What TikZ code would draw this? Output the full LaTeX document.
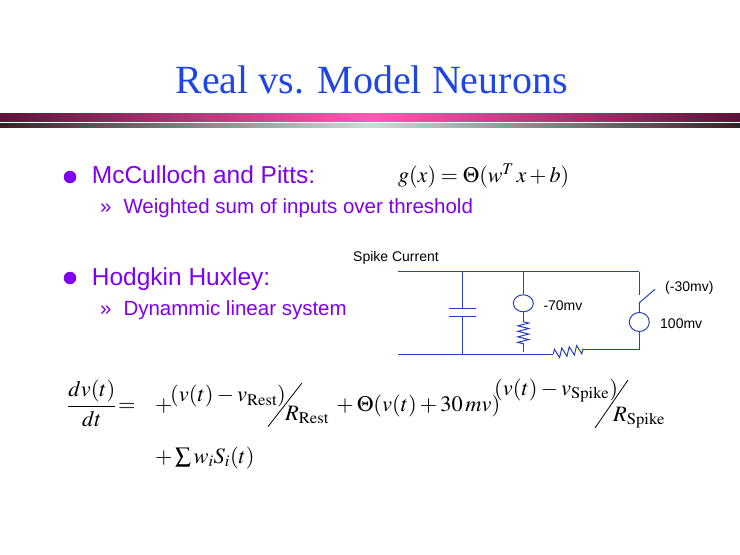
\documentclass[tikz,border=0pt]{standalone}
\usepackage{graphicx}
\usepackage{mathptmx}
\usepackage[no-math]{fontspec}
\setmainfont{Liberation Sans}
\newfontfamily\titlefont{Liberation Serif}
\usepackage{xcolor}
\usetikzlibrary{
  shapes.geometric,
  decorations.pathmorphing,
  positioning}

\definecolor{titleblue}{RGB}{30,70,230}
\definecolor{bulletpurple}{RGB}{128,0,240}
\definecolor{wireblue}{RGB}{40,64,190}
\definecolor{barmaroon}{RGB}{90,20,55}
\definecolor{barpink}{RGB}{255,90,180}
\definecolor{bardark}{RGB}{40,40,40}
\definecolor{barlight}{RGB}{215,215,215}

\newcommand{\eqs}[1]{\scalebox{1.02}[1]{$\displaystyle #1$}}

\tikzset{
  bullettext/.style={anchor=base west,inner sep=0pt,text=bulletpurple,font=\fontsize{24.5}{28}\selectfont},
  subtext/.style={anchor=base west,inner sep=0pt,text=bulletpurple,font=\fontsize{20.5}{24}\selectfont},
  dot/.style={circle,fill=bulletpurple,inner sep=0pt,minimum size=12.5pt},
  wire/.style={draw=wireblue,line width=1pt},
  source/.style={ellipse,draw=wireblue,line width=1pt,inner sep=0pt,minimum width=20pt,minimum height=17pt},
  zigv/.style={decorate,decoration={zigzag,segment length=5.5pt,amplitude=5.5pt}},
  zigh/.style={decorate,decoration={zigzag,segment length=7.5pt,amplitude=4.5pt}},
  circtext/.style={anchor=base west,inner sep=0pt,font=\fontsize{14}{16}\selectfont},
  eqpart/.style={anchor=base west,inner sep=0pt,font=\fontsize{22}{26}\selectfont}
}

\begin{document}
\begin{tikzpicture}[x=1pt,y=-1pt]
        \useasboundingbox[fill=white] (0,0) rectangle (740,555);
        % Title and bars
        \node(title) at (371.5,93)[anchor=base,inner sep=0pt,text=titleblue,font=\titlefont\fontsize{40}{45}\selectfont] {Real vs. Model Neurons};
        \shade[left color=barmaroon,right color=barmaroon,middle color=barpink] (0,113) rectangle (740,121);
        \shade[left color=bardark,right color=bardark,middle color=barlight] (0,123) rectangle (740,127);
        % Bullets
        \node(dotmcp) at (70,177)[dot] {};
        \node(mcp) at (91.7,183.3)[bullettext] {McCulloch and Pitts:};
        \node(mcpmark) at (100,213.3)[subtext] {»};
        \node(mcpsub) at (123.3,213.3)[subtext] {Weighted sum of inputs over threshold};
        \node(mcpformula) at (398,182)[anchor=base west,inner sep=0pt,font=\fontsize{22}{26}\selectfont] {$g(x)=\Theta(w^{T}\,x+b)$};
        \node(dothh) at (70,278)[dot] {};
        \node(hh) at (91.7,285)[bullettext] {Hodgkin Huxley:};
        \node(hhmark) at (100,315)[subtext] {»};
        \node(hhsub) at (123.3,315)[subtext] {Dynammic linear system};
        % Circuit
        \node(spikecurrent) at (353,261.5)[circtext] {Spike Current};
        \coordinate (tl) at (398,271.7);
        \coordinate (tr) at (639.3,271.7);
        \coordinate (bl) at (398,354);
        \coordinate (captop) at (462.3,271.7);
        \coordinate (capbot) at (462.3,354);
        \coordinate (plateA) at (462.3,308.3);
        \coordinate (plateB) at (462.3,316.7);
        \draw[wire] (tl) -- (tr);
        \draw[wire] (captop) -- (plateA);
        \draw[wire] (plateB) -- (capbot);
        \draw[wire] ([xshift=-13.5pt]plateA) -- ([xshift=13.5pt]plateA);
        \draw[wire] ([xshift=-13.5pt]plateB) -- ([xshift=13.5pt]plateB);
        % rest branch
        \node(vrest) at (523.3,303.3)[source] {};
        \coordinate (resttop) at (523.3,271.7);
        \coordinate (restzz) at (523.3,321.7);
        \coordinate (restzzend) at (523.3,345);
        \coordinate (restbot) at (523.3,351.5);
        \draw[wire] (resttop) -- (vrest.north);
        \draw[wire] (vrest.south) -- (restzz);
        \draw[wire,zigv] (restzz) -- (restzzend);
        \draw[wire] (restzzend) -- (restbot);
        \node(restlabel) at (543.3,310.7)[circtext] {-70mv};
        % spike branch
        \coordinate (rspikeL) at (553.3,354);
        \coordinate (rspikeR) at (583.3,349);
        \coordinate (spikebot) at (639.3,349);
        \coordinate (swtop) at (639.3,295);
        \coordinate (swpivot) at (639.3,302.7);
        \coordinate (swtip) at (655,289.3);
        \node(vspike) at (639.3,322)[source,minimum height=19pt] {};
        \draw[wire] (bl) -- (rspikeL);
        \draw[wire,zigh] (rspikeL) -- (rspikeR);
        \draw[wire] (rspikeR) -- (spikebot) -- (vspike.south);
        \draw[wire] (vspike.north) -- (swpivot) -- (swtip);
        \draw[wire] (tr) -- (swtop);
        \node(switchlabel) at (665,291.5)[circtext] {(-30mv)};
        \node(spikelabel) at (660,328.3)[circtext] {100mv};
        % Equation
        \node(dvdt) at (67,411.7)[eqpart] {\eqs{\frac{dv(t)}{dt}}};
        \node(eqsign) at (118,411.7)[eqpart] {\eqs{=}};
        \node(plusrest) at (155,411.7)[eqpart] {\eqs{+}};
        \node(numrest) at (170,401.7)[eqpart] {\eqs{(v(t)-v_{\mathrm{Rest}})}};
        \node(denrest) at (285,420)[eqpart] {\eqs{R_{\mathrm{Rest}}}};
        \node(theta) at (333,411.7)[eqpart] {\eqs{{}+\Theta(v(t)+30\,mv)}};
        \node(numspike) at (494,395)[eqpart] {\eqs{(v(t)-v_{\mathrm{Spike}})}};
        \node(denspike) at (613,421)[eqpart] {\eqs{R_{\mathrm{Spike}}}};
        \node(sumterm) at (155,463)[eqpart] {\eqs{+\textstyle\sum w_{i}S_{i}(t)}};
        \coordinate (slashrestA) at (268,426.7);
        \coordinate (slashrestB) at (301.7,383.3);
        \coordinate (slashspikeA) at (595,428);
        \coordinate (slashspikeB) at (628,380);
        \draw[line width=0.8pt] (slashrestA) -- (slashrestB);
        \draw[line width=0.8pt] (slashspikeA) -- (slashspikeB);
    \end{tikzpicture}
\end{document}
